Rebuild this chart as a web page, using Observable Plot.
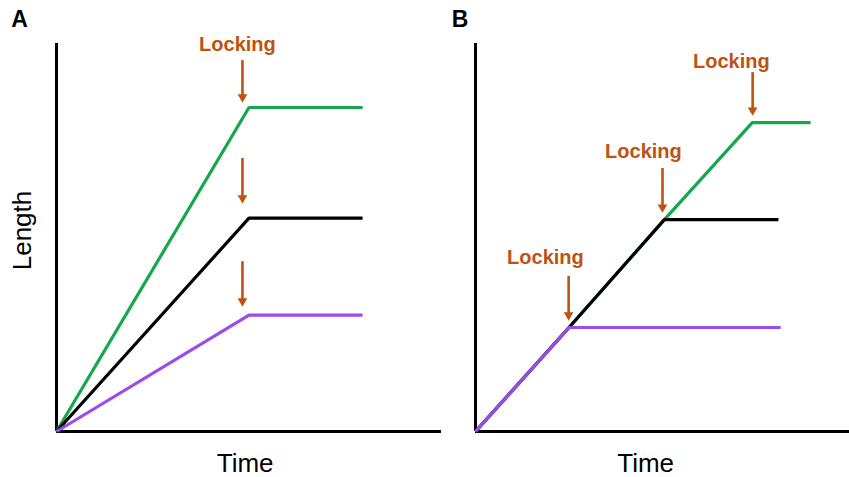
<!DOCTYPE html>
<html>
<head>
<meta charset="utf-8">
<script src="https://cdn.jsdelivr.net/npm/d3@7"></script>
<script src="https://cdn.jsdelivr.net/npm/@observablehq/plot@0.6"></script>
<style>
  html, body { margin: 0; padding: 0; background: #fff; }
  #wrap { position: relative; width: 849px; height: 477px; overflow: hidden; }
  #wrap > svg { position: absolute; top: 0; overflow: visible; }
</style>
</head>
<body>
<div id="wrap"></div>
<script>
// ---- Data (arbitrary units: time 0-10, length 0-10) ----
// Panel A: three growth rates, all locked at the same time
const aTime   = [0, 5, 7.95];
const aGreen  = [0, 8.35, 8.35];
const aBlack  = [0, 5.5, 5.5];
const aPurple = [0, 3.0, 3.0];
const aLockX   = [4.83, 4.83, 4.83];
const aLockTop = [9.43, 6.91, 4.25];
const aLockTip = [8.48, 5.88, 3.22];
const aLabelX  = [4.7];
const aLabelY  = [9.97];

// Panel B: same growth rate, locked at different times
const bGreenTime  = [0, 2.5, 5.05, 7.4, 8.96];
const bGreen      = [0, 2.68, 5.46, 7.96, 7.96];
const bBlackTime  = [0, 2.5, 5.05, 8.1];
const bBlack      = [0, 2.68, 5.46, 5.46];
const bPurpleTime = [0, 2.5, 8.16];
const bPurple     = [0, 2.68, 2.68];
const bLockX   = [2.49, 5.0, 7.41];
const bLockTop = [3.87, 6.65, 9.12];
const bLockTip = [2.86, 5.64, 8.14];
const bLabelX  = [1.87, 4.49, 6.84];
const bLabelY  = [4.48, 7.22, 9.54];

const lockText = "Locking";
const colors = {green: "#14a84a", black: "#000000", purple: "#9b4ce8"};
const orange = "#c0520f";
const font = "'Liberation Sans', Arial, Helvetica, sans-serif";

function series(xs, ys, name) {
  return xs.map((x, i) => ({t: x, len: ys[i], s: name}));
}
function locks(xs, tops, tips) {
  return xs.map((x, i) => ({x, top: tops[i], tip: tips[i]}));
}

function panel({width, marginLeft, lines, lockData, labelX, labelY, letter, letterDx, timeX, showLength}) {
  const labels = labelX.map((x, i) => ({x, y: labelY[i]}));
  const marks = [
    Plot.ruleX([0], {y1: 0, y2: 10, stroke: "#000", strokeWidth: 3}),
    Plot.ruleY([0], {x1: 0, x2: 10, stroke: "#000", strokeWidth: 3}),
    ...lines.map(d => Plot.line(d.data, {x: "t", y: "len", stroke: colors[d.name], strokeWidth: 3.2, strokeLinejoin: "miter", strokeLinecap: "butt"})),
    Plot.ruleX(lockData, {x: "x", y1: "top", y2: "tip", dy: -5, stroke: orange, strokeWidth: 2.6}),
    Plot.dot(lockData, {x: "x", y: "tip", dy: -5.4, symbol: "triangle", rotate: 180, r: 3.6, fill: orange, stroke: "none"}),
    Plot.text(labels, {x: "x", y: "y", text: () => lockText, fill: orange, fontSize: 20, fontWeight: "bold"}),
    Plot.text([letter], {frameAnchor: "top-left", textAnchor: "middle", lineAnchor: "middle", dx: letterDx, dy: -23.5, fontSize: 23, fontWeight: "bold", fill: "#000"}),
    Plot.text(["Time"], {x: timeX, frameAnchor: "bottom", lineAnchor: "middle", dy: 32, fontSize: 26, fill: "#000"})
  ];
  if (showLength) {
    marks.push(Plot.text(["Length"], {frameAnchor: "left", textAnchor: "middle", lineAnchor: "middle", rotate: -90, dx: -34, dy: -7, fontSize: 26, fill: "#000"}));
  }
  return Plot.plot({
    width, height: 477,
    marginLeft, marginRight: 0, marginTop: 43, marginBottom: 46,
    x: {domain: [0, 10], axis: null},
    y: {domain: [0, 10], axis: null},
    style: {fontFamily: font, background: "transparent", overflow: "visible"},
    marks
  });
}

const wrap = document.getElementById("wrap");

const svgA = panel({
  width: 441, marginLeft: 56,
  lines: [
    {name: "green", data: series(aTime, aGreen, "green")},
    {name: "black", data: series(aTime, aBlack, "black")},
    {name: "purple", data: series(aTime, aPurple, "purple")}
  ],
  lockData: locks(aLockX, aLockTop, aLockTip),
  labelX: aLabelX, labelY: aLabelY,
  letter: "A", letterDx: -37, timeX: 4.9, showLength: true
});
svgA.style.left = "0px";
wrap.appendChild(svgA);

const svgB = panel({
  width: 408, marginLeft: 34,
  lines: [
    {name: "green", data: series(bGreenTime, bGreen, "green")},
    {name: "black", data: series(bBlackTime, bBlack, "black")},
    {name: "purple", data: series(bPurpleTime, bPurple, "purple")}
  ],
  lockData: locks(bLockX, bLockTop, bLockTip),
  labelX: bLabelX, labelY: bLabelY,
  letter: "B", letterDx: -15.5, timeX: 4.55, showLength: false
});
svgB.style.left = "441px";
wrap.appendChild(svgB);
</script>
</body>
</html>
